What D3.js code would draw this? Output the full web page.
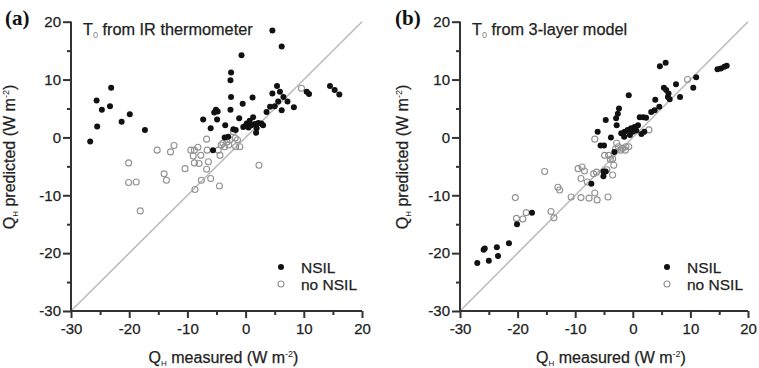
<!DOCTYPE html>
<html><head><meta charset="utf-8">
<script src="https://cdn.jsdelivr.net/npm/d3@7"></script>
<style>
body{margin:0;background:#fff;}
svg{display:block;font-family:"Liberation Sans",Arial,Helvetica,sans-serif;}
</style></head>
<body><svg id="c" width="759" height="368"></svg>
<script>
// ---- data (W m-2) ----
const xTicks = [-30,-20,-10,0,10,20];
const yTicks = [-30,-20,-10,0,10,20];
const minorTicks = [-25,-15,-5,5,15];
const panelLabels = ["(a)","(b)"];
const panelTitles = [" from IR thermometer"," from 3-layer model"];
const legendLabels = ["NSIL","no NSIL"];

// Panel (a): T0 from IR thermometer
const irNSIL = [
 [-26.7,-0.7],[-25.6,6.4],[-25.5,1.9],[-24.7,4.8],[-23.1,8.6],[-23.3,5.4],[-21.3,2.7],[-19.9,4.0],[-17.3,1.3],
 [-7.3,3.1],[-6.0,1.6],[-5.6,-2.2],[-5.1,4.8],[-4.8,4.5],[-5.4,4.3],[-4.9,3.1],[-3.5,2.1],[-3.6,0.0],[-3.0,0.1],
 [-2.5,11.2],[-2.6,9.9],[-2.5,7.0],[-2.6,4.8],[-0.7,14.2],[-0.5,5.8],[1.2,6.9],[-1.1,3.3],[-2.1,1.4],[-1.7,1.3],
 [-0.4,1.8],[0.2,2.4],[0.7,2.9],[1.3,3.5],[1.0,2.1],[1.6,2.3],[2.2,2.5],[2.7,2.4],[1.9,1.6],[1.8,0.8],[3.0,2.1],
 [0.0,2.0],[0.5,1.7],[3.6,4.4],[4.2,5.3],[5.0,5.4],[4.6,7.6],[5.4,8.9],[5.9,7.9],[6.5,7.0],[5.6,6.2],[6.2,4.7],
 [7.2,6.2],[8.3,5.2],[10.5,7.9],[10.9,7.5],[14.5,8.9],[15.3,8.2],[16.1,7.4],[4.6,18.5],[6.2,15.7]
];
const irNoNSIL = [
 [-20.1,-4.4],[-20.1,-7.8],[-18.8,-7.7],[-18.1,-12.7],[-15.2,-2.2],[-14.0,-6.3],[-13.6,-7.4],[-12.9,-2.5],[-12.3,-1.4],
 [-10.4,-5.4],[-9.4,-2.2],[-8.8,-2.2],[-9.0,-3.2],[-8.8,-4.4],[-8.7,-9.0],[-8.2,-1.7],[-8.0,-4.5],[-7.7,-3.1],[-7.6,-7.4],
 [-6.7,-0.3],[-6.6,-2.2],[-6.4,-4.2],[-6.7,-5.5],[-6.0,-7.1],[-4.5,-8.4],[-4.4,-3.1],[-4.7,-2.2],[-3.9,-1.0],[-3.6,-1.6],
 [-2.9,-1.3],[-2.7,-0.4],[-2.1,1.0],[-1.8,-0.1],[-1.7,-1.6],[-1.0,-1.6],[-1.4,-0.4],[2.3,-4.8],[9.6,8.5],[-4.2,-1.3],[-3.2,-0.8]
];

// Panel (b): T0 from 3-layer model
const modelNSIL = [
 [-27.0,-21.7],[-25.9,-19.4],[-25.7,-19.2],[-25.0,-21.3],[-23.6,-19.0],[-23.4,-20.5],[-21.5,-18.3],[-20.1,-15.0],[-17.5,-13.0],
 [-7.2,-8.0],[-5.1,-5.9],[-4.7,-5.9],[-5.1,-6.7],[-5.6,-1.4],[-5.0,-1.4],[-6.1,1.0],[-4.7,3.0],[-3.8,0.0],[-3.2,-2.5],
 [-2.4,5.0],[-2.6,4.1],[-2.9,3.3],[-2.8,2.1],[-0.7,7.3],
 [-2.0,0.7],[-1.4,1.0],[-0.9,1.3],[-0.3,1.6],[0.3,1.8],[0.9,2.1],[0.0,1.0],[0.6,1.2],[-0.5,0.4],[1.5,0.6],[2.0,1.0],[-1.5,0.1],
 [1.2,3.5],[1.8,3.5],[2.3,3.4],[3.2,4.4],[3.8,4.7],[4.6,5.3],[3.9,6.5],[4.7,12.3],[5.7,12.9],[5.4,8.6],[5.8,8.2],
 [6.1,7.0],[6.4,6.6],[6.2,7.6],[7.5,9.2],[8.2,7.0],[10.5,8.6],[11.0,10.4],[14.7,11.8],[15.3,11.9],[15.9,12.2],[16.3,12.4]
];
const modelNoNSIL = [
 [-20.4,-10.4],[-20.2,-14.0],[-19.1,-14.1],[-18.5,-13.0],[-15.3,-5.9],[-13.0,-8.6],[-12.7,-9.1],[-14.2,-12.8],[-13.7,-13.9],
 [-10.7,-10.3],[-9.5,-5.4],[-8.8,-5.1],[-8.4,-5.8],[-9.0,-7.1],[-9.0,-10.4],[-7.9,-7.7],[-7.6,-10.5],[-6.8,-6.3],[-6.6,-9.6],
 [-6.2,-10.8],[-6.3,-6.0],[-6.6,-0.3],[-4.3,-10.3],[-4.9,-3.1],[-4.2,-3.1],[-3.9,-3.8],[-3.5,-3.7],[-3.3,-4.8],[-3.5,-6.5],
 [-3.0,-2.0],[-2.5,-1.6],[-2.1,-2.2],[-1.8,-1.9],[-1.3,-2.2],[-1.2,-1.6],[-0.7,-1.6],[2.8,1.3],[9.5,10.0],[-4.5,-5.6],[-2.8,-1.0]
];

// ---- drawing ----
const svg = d3.select("#c");
const panels = [
  {left:71, right:362, nsil:irNSIL, no:irNoNSIL, label:panelLabels[0], title:panelTitles[0], labX:5, ylOff:56},
  {left:460, right:748, nsil:modelNSIL, no:modelNoNSIL, label:panelLabels[1], title:panelTitles[1], labX:395, ylOff:52}
];
const yTop = 21.7, yBottom = 311;
const axisCol = "#333", txtCol = "#222";
const heavy = sel => sel.attr("stroke",txtCol).attr("stroke-width",0.25);

panels.forEach(p => {
  const x = d3.scaleLinear().domain([-30,20]).range([p.left,p.right]);
  const y = d3.scaleLinear().domain([-30,20]).range([yBottom,yTop]);
  const g = svg.append("g");

  g.append("line").attr("x1",x(-30)).attr("y1",y(-30)).attr("x2",x(20)).attr("y2",y(20))
    .attr("stroke","#bdbdbd").attr("stroke-width",1.6);

  const gxm = g.append("g").attr("transform",`translate(0,${yBottom})`)
    .call(d3.axisBottom(x).tickValues(minorTicks).tickSize(4).tickFormat(""));
  const gym = g.append("g").attr("transform",`translate(${p.left},0)`)
    .call(d3.axisLeft(y).tickValues(minorTicks).tickSize(4).tickFormat(""));
  const gx = g.append("g").attr("transform",`translate(0,${yBottom})`)
    .call(d3.axisBottom(x).tickValues(xTicks).tickSize(7).tickPadding(5).tickFormat(d3.format("d")));
  const gy = g.append("g").attr("transform",`translate(${p.left},0)`)
    .call(d3.axisLeft(y).tickValues(yTicks).tickSize(8).tickPadding(2).tickFormat(d3.format("d")));
  [gxm,gym,gx,gy].forEach(a=>{
    const horiz = (a===gx||a===gxm);
    a.select(".domain").attr("stroke",axisCol).attr("stroke-width",2)
      .attr("d", horiz ? `M${p.left},0H${p.right}` : `M0,${yBottom}V${yTop}`);
    a.selectAll(".tick line").attr("stroke",axisCol).attr("stroke-width",2);
    const tx = a.selectAll("text").attr("fill",txtCol).style("font-size","15px").style("font-family","inherit")
      .text(function(){ return this.textContent.replace("\u2212","-"); });
    heavy(tx);
  });

  g.append("g").selectAll("circle").data(p.no).join("circle")
    .attr("cx",d=>x(d[0])).attr("cy",d=>y(d[1])).attr("r",3)
    .attr("fill","none").attr("stroke","#929292").attr("stroke-width",1.1);
  g.append("g").selectAll("circle").data(p.nsil).join("circle")
    .attr("cx",d=>x(d[0])).attr("cy",d=>y(d[1])).attr("r",3)
    .attr("fill","#111");

  svg.append("text").attr("x",p.labX).attr("y",25)
    .style("font-family","'Liberation Serif','Times New Roman',serif").style("font-weight","bold")
    .style("font-size","21px").attr("fill","#111").text(p.label);

  const t = svg.append("text").attr("x",p.left+12).attr("y",35).style("font-size","16.3px").attr("fill",txtCol);
  heavy(t);
  t.append("tspan").text("T");
  t.append("tspan").attr("dy",3).style("font-size","9px").attr("fill","#888").attr("stroke","none").text("0");
  t.append("tspan").attr("dy",-3).text(p.title);

  const cx = (p.left+p.right)/2 + 7;
  const xl = svg.append("text").attr("x",cx).attr("y",363).attr("text-anchor","middle")
    .style("font-size","16px").attr("fill",txtCol);
  heavy(xl);
  xl.append("tspan").text("Q");
  xl.append("tspan").attr("dy",3).style("font-size","8px").attr("stroke","none").text("H");
  xl.append("tspan").attr("dy",-3).text(" measured (W m");
  xl.append("tspan").attr("dy",-6).style("font-size","9px").attr("stroke","none").text("-2");
  xl.append("tspan").attr("dy",6).text(")");

  const yl = svg.append("text").attr("transform",`translate(${p.left-p.ylOff},157) rotate(-90)`)
    .attr("text-anchor","middle").style("font-size","16px").attr("fill",txtCol);
  heavy(yl);
  yl.append("tspan").text("Q");
  yl.append("tspan").attr("dy",3).style("font-size","8px").attr("stroke","none").text("H");
  yl.append("tspan").attr("dy",-3).text(" predicted (W m");
  yl.append("tspan").attr("dy",-6).style("font-size","9px").attr("stroke","none").text("-2");
  yl.append("tspan").attr("dy",6).text(")");

  const lx = p.right - 81, ly1 = 267, ly2 = 284;
  svg.append("circle").attr("cx",lx).attr("cy",ly1).attr("r",3).attr("fill","#111");
  svg.append("circle").attr("cx",lx).attr("cy",ly2).attr("r",3).attr("fill","none").attr("stroke","#929292").attr("stroke-width",1.1);
  heavy(svg.append("text").attr("x",lx+20).attr("y",ly1+5.5).style("font-size","15.5px").attr("fill",txtCol).text(legendLabels[0]));
  heavy(svg.append("text").attr("x",lx+20).attr("y",ly2+5.5).style("font-size","15.5px").attr("fill",txtCol).text(legendLabels[1]));
});
</script></body></html>
